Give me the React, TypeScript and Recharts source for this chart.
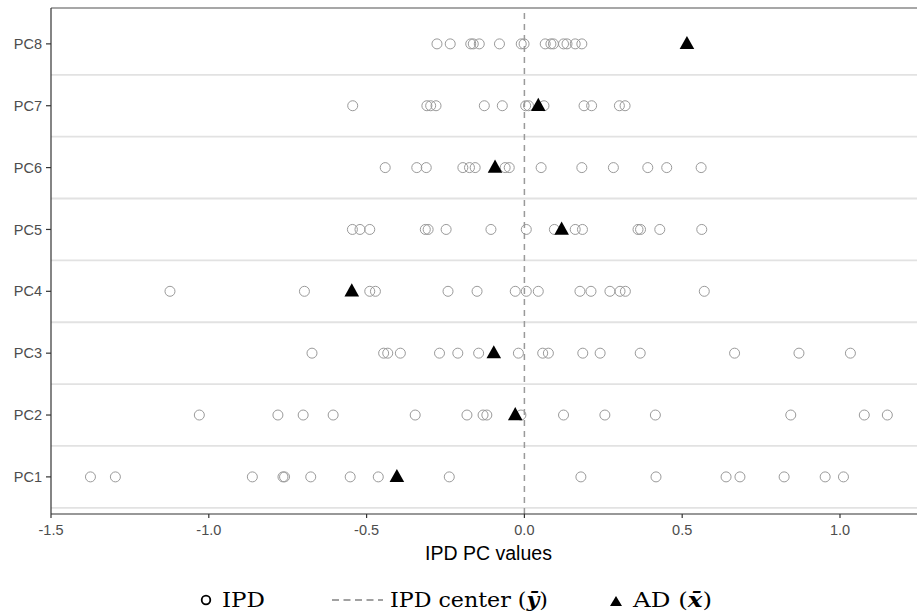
import React from 'react';
import { ScatterChart, Scatter, XAxis, YAxis, ReferenceLine } from 'recharts';

// ---- data ----
const componentLabels = ['PC1', 'PC2', 'PC3', 'PC4', 'PC5', 'PC6', 'PC7', 'PC8'];

const ipdPC1 = [-1.375, -1.296, -0.862, -0.765, -0.760, -0.677, -0.552, -0.463, -0.238, 0.179, 0.417, 0.639, 0.683, 0.823, 0.953, 1.011];
const ipdPC2 = [-1.030, -0.781, -0.701, -0.606, -0.346, -0.182, -0.131, -0.119, -0.011, 0.124, 0.255, 0.415, 0.844, 1.077, 1.150];
const ipdPC3 = [-0.673, -0.446, -0.433, -0.393, -0.269, -0.211, -0.145, -0.019, 0.058, 0.076, 0.185, 0.240, 0.367, 0.666, 0.870, 1.033];
const ipdPC4 = [-1.123, -0.697, -0.490, -0.472, -0.242, -0.150, -0.029, 0.006, 0.044, 0.176, 0.211, 0.271, 0.303, 0.320, 0.570];
const ipdPC5 = [-0.545, -0.521, -0.490, -0.314, -0.305, -0.248, -0.106, 0.006, 0.095, 0.161, 0.184, 0.360, 0.368, 0.429, 0.562];
const ipdPC6 = [-0.441, -0.341, -0.311, -0.195, -0.174, -0.156, -0.061, -0.048, 0.053, 0.182, 0.282, 0.391, 0.451, 0.560];
const ipdPC7 = [-0.544, -0.309, -0.297, -0.280, -0.127, -0.070, 0.004, 0.013, 0.062, 0.189, 0.213, 0.301, 0.319];
const ipdPC8 = [-0.277, -0.235, -0.170, -0.162, -0.143, -0.079, -0.010, -0.001, 0.066, 0.084, 0.092, 0.124, 0.135, 0.161, 0.182];

const adValues = [-0.404, -0.029, -0.097, -0.547, 0.118, -0.093, 0.044, 0.515];

const ipdCenter = 0;
const xTicks = [-1.5, -1.0, -0.5, 0, 0.5, 1.0];
const yTicks = [1, 2, 3, 4, 5, 6, 7, 8];
const bandBoundaries = [0.5, 1.5, 2.5, 3.5, 4.5, 5.5, 6.5, 7.5];

const ipdRows = [ipdPC1, ipdPC2, ipdPC3, ipdPC4, ipdPC5, ipdPC6, ipdPC7, ipdPC8];
const ipdData = ipdRows.flatMap((row, i) => row.map((x) => ({ x, y: i + 1 })));
const adData = adValues.map((x, i) => ({ x, y: i + 1 }));

const X_DOMAIN: [number, number] = [-1.5, 1.244];
const Y_DOMAIN: [number, number] = [0.4, 8.58];

const OpenCircle = (props: any) => {
  const { cx, cy } = props;
  if (cx == null || cy == null) return null;
  return <circle cx={cx} cy={cy} r={5} fill="none" stroke="#9a9a9a" strokeWidth={1} />;
};

const Triangle = (props: any) => {
  const { cx, cy } = props;
  if (cx == null || cy == null) return null;
  return (
    <polygon
      points={`${cx},${cy - 8} ${cx - 7.3},${cy + 5.2} ${cx + 7.3},${cy + 5.2}`}
      fill="#000"
    />
  );
};

export default function App() {
  const sans = '"Liberation Sans", Arial, sans-serif';
  const serif = '"DejaVu Serif", serif';
  return (
    <div style={{ position: 'absolute', left: 0, top: 0, width: 917, height: 615, background: '#fff' }}>
      <ScatterChart width={917} height={615} margin={{ top: 8, right: 0, bottom: 61, left: 0 }}>
        {bandBoundaries.map((b) => (
          <ReferenceLine key={b} y={b} stroke="#e2e2e2" strokeWidth={1.8} />
        ))}
        <ReferenceLine y={Y_DOMAIN[1]} stroke="#8a8a8a" strokeWidth={1.3} />
        <ReferenceLine x={ipdCenter} stroke="#9a9a9a" strokeWidth={1.5} strokeDasharray="6 5" />
        <XAxis
          type="number"
          dataKey="x"
          domain={X_DOMAIN}
          ticks={xTicks}
          allowDataOverflow
          height={40}
          tickSize={4}
          tickMargin={7}
          tickFormatter={(v: number) => v.toFixed(1)}
          tick={{ fill: '#4d4d4d', fontSize: 14.5, fontFamily: sans }}
          axisLine={{ stroke: '#333', strokeWidth: 1.2 }}
          tickLine={{ stroke: '#333', strokeWidth: 1.2 }}
        />
        <YAxis
          type="number"
          dataKey="y"
          domain={Y_DOMAIN}
          ticks={yTicks}
          interval={0}
          allowDataOverflow
          width={51}
          tickSize={5}
          tickMargin={4}
          tickFormatter={(v: number) => componentLabels[v - 1]}
          tick={{ fill: '#4d4d4d', fontSize: 14.5, fontFamily: sans }}
          axisLine={{ stroke: '#333', strokeWidth: 1.2 }}
          tickLine={{ stroke: '#333', strokeWidth: 1.2 }}
        />
        <Scatter name="IPD" data={ipdData} shape={OpenCircle} isAnimationActive={false} />
        <Scatter name="AD" data={adData} shape={Triangle} isAnimationActive={false} />
      </ScatterChart>
      <svg
        width={917}
        height={615}
        style={{ position: 'absolute', left: 0, top: 0, pointerEvents: 'none' }}
      >
        <text x={488.5} y={560} textAnchor="middle" fontSize={19.5} fontFamily={sans} fill="#000">
          IPD PC values
        </text>
        <circle cx={206} cy={600} r={4.3} fill="none" stroke="#000" strokeWidth={1.8} />
        <text x={222} y={607} fontSize={21} fontFamily={serif} fill="#000" textLength={43} lengthAdjust="spacingAndGlyphs">
          IPD
        </text>
        <line x1={332} y1={600} x2={383} y2={600} stroke="#444" strokeWidth={1.2} strokeDasharray="7 4.5" />
        <text x={390} y={607} fontSize={21} fontFamily={serif} fill="#000" textLength={158} lengthAdjust="spacingAndGlyphs">
          IPD center (<tspan fontWeight="bold" fontStyle="italic">ȳ</tspan>)
        </text>
        <polygon points="616,596 610,606 622,606" fill="#000" />
        <text x={633} y={607} fontSize={21} fontFamily={serif} fill="#000" textLength={79} lengthAdjust="spacingAndGlyphs">
          AD (<tspan fontWeight="bold" fontStyle="italic">x̄</tspan>)
        </text>
      </svg>
    </div>
  );
}
